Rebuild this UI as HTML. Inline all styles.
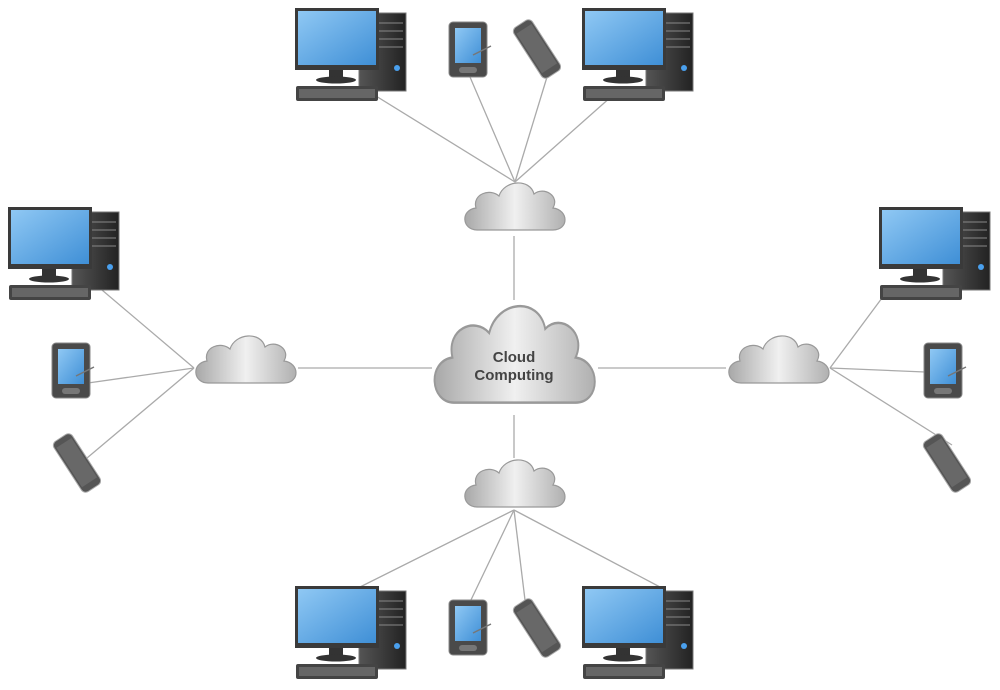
<!DOCTYPE html>
<html><head><meta charset="utf-8"><style>
html,body{margin:0;padding:0;background:#fff;width:1000px;height:690px;overflow:hidden}
</style></head><body>
<svg width="1000" height="690" viewBox="0 0 1000 690" xmlns="http://www.w3.org/2000/svg">
<defs>
<linearGradient id="scr" x1="0" y1="0" x2="1" y2="1"><stop offset="0" stop-color="#8fc8f4"/><stop offset="1" stop-color="#3f8fd6"/></linearGradient>
<linearGradient id="cl" x1="0" y1="0" x2="1" y2="0"><stop offset="0" stop-color="#a8a8a8"/><stop offset="0.5" stop-color="#f0f0f0"/><stop offset="1" stop-color="#b0b0b0"/></linearGradient>
<linearGradient id="tw" x1="0" y1="0" x2="1" y2="0"><stop offset="0" stop-color="#555"/><stop offset="1" stop-color="#222"/></linearGradient>
<g id="pc">
<rect x="64" y="5" width="47" height="78" fill="url(#tw)" stroke="#777" stroke-width="1"/>
<line x1="68" y1="15" x2="108" y2="15" stroke="#888"/><line x1="68" y1="23" x2="108" y2="23" stroke="#888"/><line x1="68" y1="31" x2="108" y2="31" stroke="#888"/><line x1="68" y1="39" x2="108" y2="39" stroke="#888"/>
<circle cx="102" cy="60" r="3" fill="#4aa0ee"/>
<rect x="0" y="0" width="84" height="62" fill="#3a3a3a"/>
<rect x="3" y="3" width="78" height="54" fill="url(#scr)"/>
<rect x="34" y="62" width="14" height="8" fill="#333"/>
<ellipse cx="41" cy="72" rx="20" ry="3.5" fill="#333"/>
<rect x="1" y="78" width="82" height="15" rx="2" fill="#444"/>
<rect x="4" y="81" width="76" height="9" fill="#666"/>
</g>
<g id="pda">
<rect x="0" y="0" width="38" height="55" rx="4" fill="#4a4a4a" stroke="#888"/>
<rect x="6" y="6" width="26" height="35" fill="url(#scr)"/>
<rect x="10" y="45" width="18" height="6" rx="3" fill="#777"/>
<line x1="24" y1="33" x2="42" y2="24" stroke="#777" stroke-width="1.5"/>
</g>
<g id="ph">
<rect x="-11" y="-30" width="22" height="60" rx="5" fill="#555" stroke="#aaa"/>
<rect x="-9" y="-24" width="18" height="47" fill="#686868"/>
</g>
<path id="cloud" d="M15,52 C0,52 -2,32 14,30 C10,16 28,10 37,18 C42,2 68,0 72,16 C82,8 98,18 91,30 C107,32 107,52 91,52 Z" fill="url(#cl)" stroke="#999" stroke-width="1.2"/>
</defs>
<g stroke="#aaa" stroke-width="1.3">
<line x1="376" y1="96" x2="515" y2="182"/><line x1="470" y1="77" x2="515" y2="182"/><line x1="547" y1="77" x2="515" y2="182"/><line x1="612" y1="96" x2="515" y2="182"/>
<line x1="514" y1="236" x2="514" y2="300"/>
<line x1="102" y1="290" x2="194" y2="368"/><line x1="88" y1="383" x2="194" y2="368"/><line x1="87" y1="458" x2="194" y2="368"/>
<line x1="298" y1="368" x2="432" y2="368"/>
<line x1="882" y1="298" x2="830" y2="368"/><line x1="925" y1="372" x2="830" y2="368"/><line x1="952" y1="445" x2="830" y2="368"/>
<line x1="598" y1="368" x2="726" y2="368"/>
<line x1="514" y1="415" x2="514" y2="458"/>
<line x1="360" y1="587" x2="514" y2="510"/><line x1="470" y1="602" x2="514" y2="510"/><line x1="525" y1="600" x2="514" y2="510"/><line x1="660" y1="587" x2="514" y2="510"/>
</g>
<use href="#cloud" transform="translate(462,178)"/>
<use href="#cloud" transform="translate(193,331)"/>
<use href="#cloud" transform="translate(726,331)"/>
<use href="#cloud" transform="translate(462,455)"/>
<use href="#cloud" transform="translate(430,296) scale(1.6,2.05)" />
<text x="514" y="362" font-family="Liberation Sans, sans-serif" font-size="15" font-weight="bold" fill="#444" text-anchor="middle">Cloud</text>
<text x="514" y="380" font-family="Liberation Sans, sans-serif" font-size="15" font-weight="bold" fill="#444" text-anchor="middle">Computing</text>
<use href="#pc" transform="translate(295,8)"/>
<use href="#pc" transform="translate(582,8)"/>
<use href="#pc" transform="translate(8,207)"/>
<use href="#pc" transform="translate(879,207)"/>
<use href="#pc" transform="translate(295,586)"/>
<use href="#pc" transform="translate(582,586)"/>
<use href="#pda" transform="translate(449,22)"/>
<use href="#pda" transform="translate(52,343)"/>
<use href="#pda" transform="translate(924,343)"/>
<use href="#pda" transform="translate(449,600)"/>
<use href="#ph" transform="translate(537,49) rotate(-33)"/>
<use href="#ph" transform="translate(77,463) rotate(-33)"/>
<use href="#ph" transform="translate(947,463) rotate(-33)"/>
<use href="#ph" transform="translate(537,628) rotate(-33)"/>
</svg>
</body></html>
